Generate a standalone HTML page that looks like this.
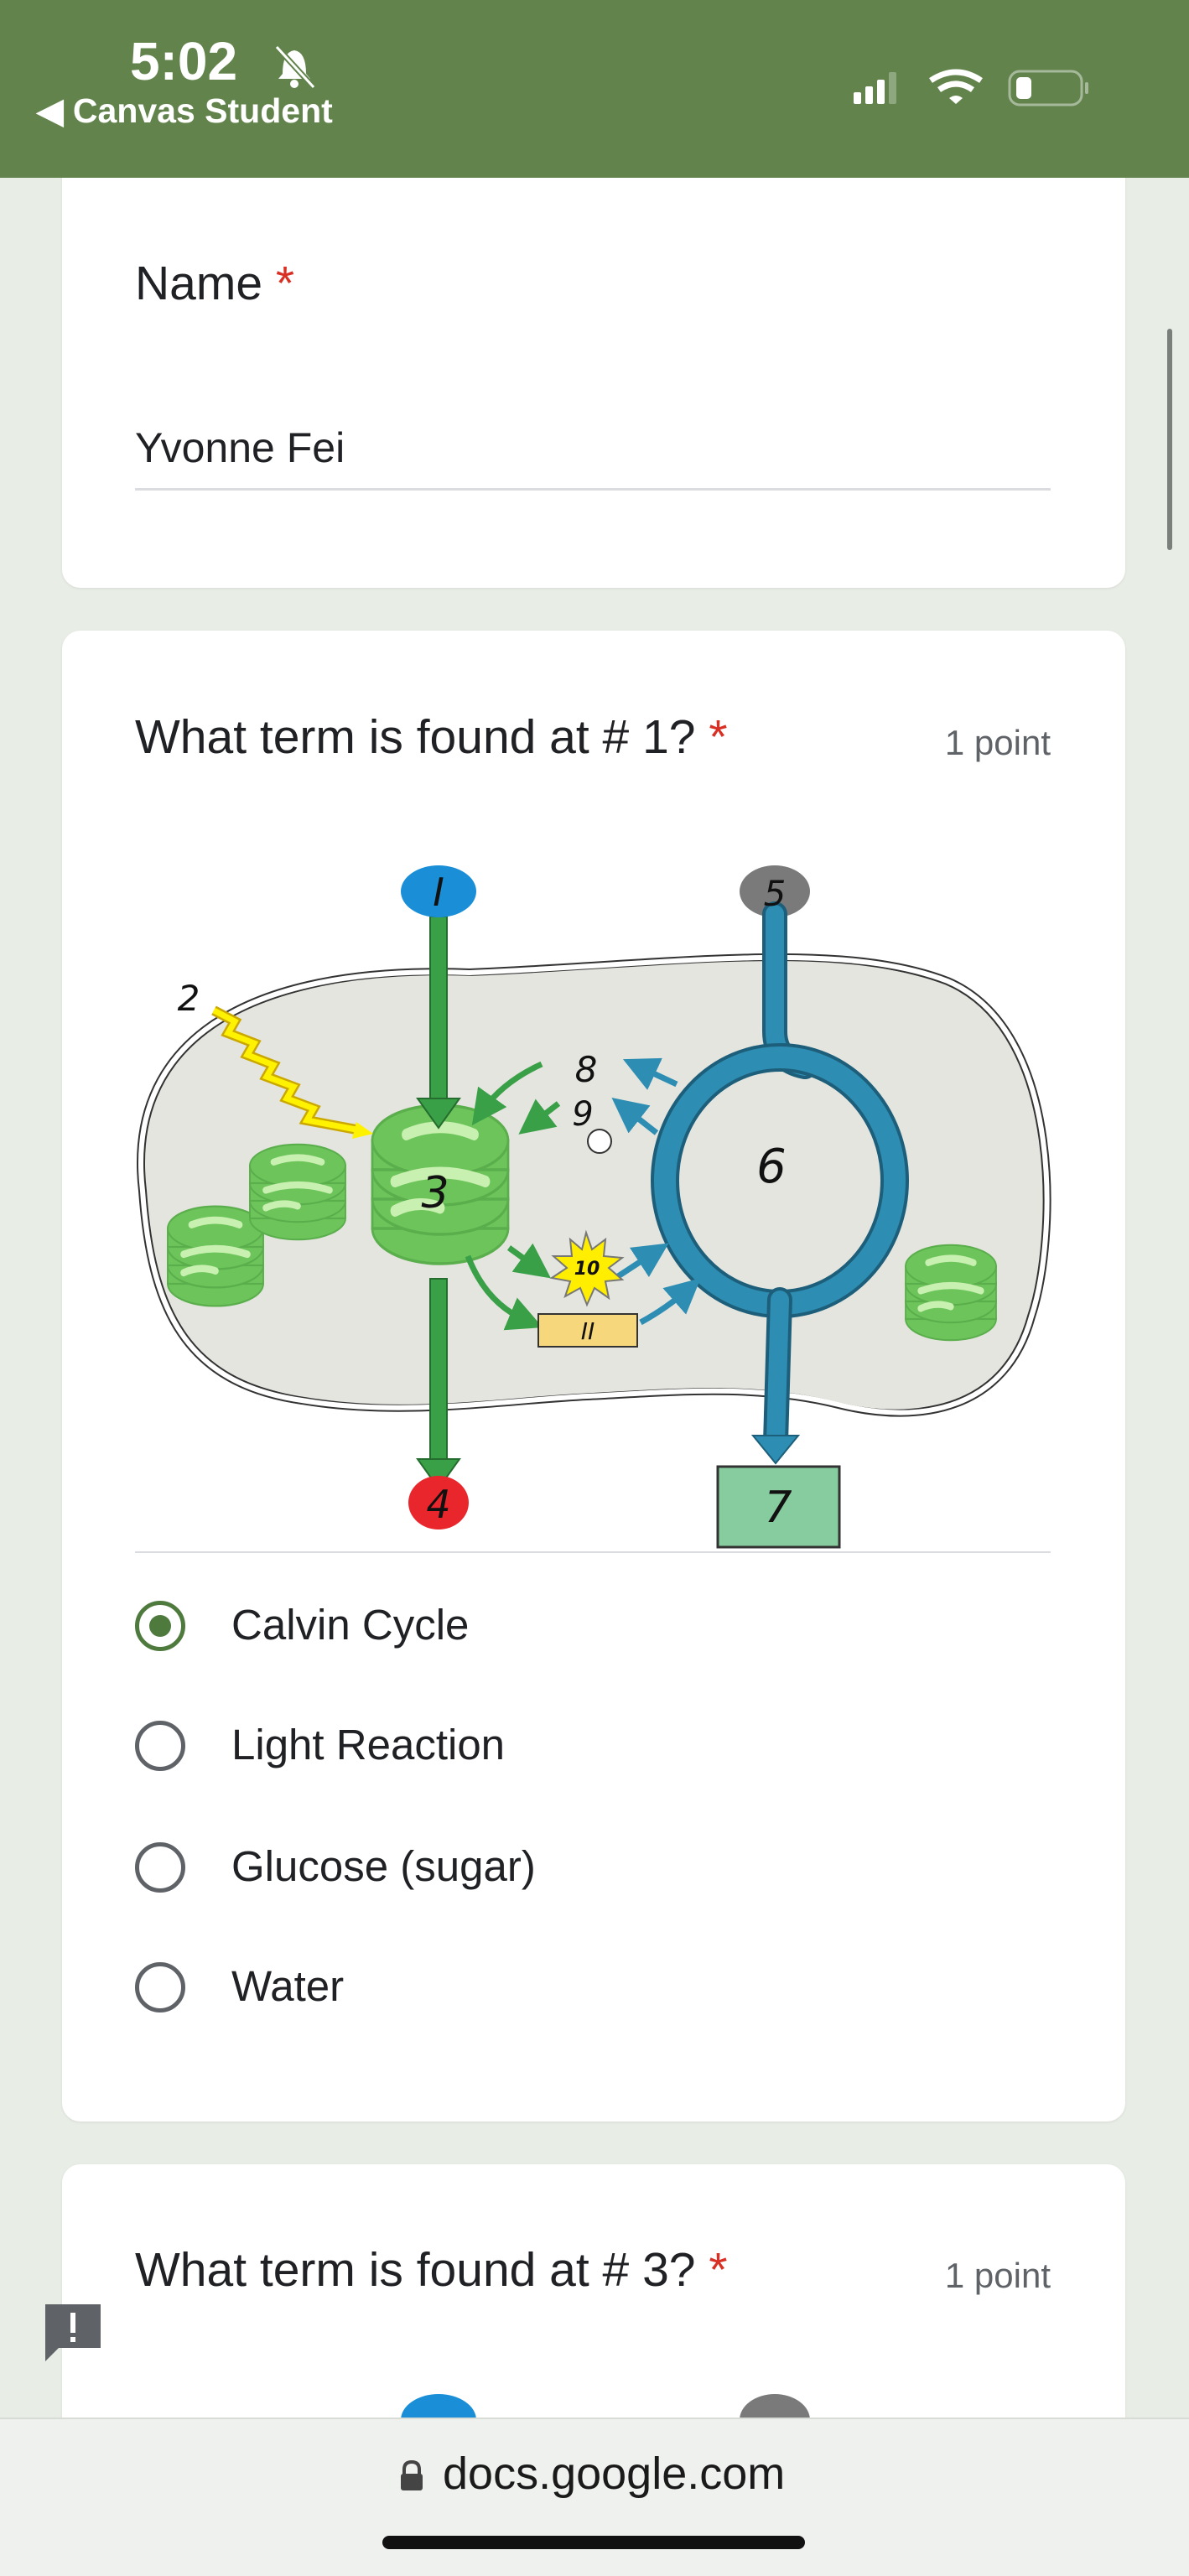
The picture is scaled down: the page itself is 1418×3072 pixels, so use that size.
<!DOCTYPE html>
<html><head><meta charset="utf-8"><style>
html,body{margin:0;padding:0}
#root{width:1418px;height:3072px;overflow:hidden;background:#e8ede6;font-family:"Liberation Sans",Arial,sans-serif;position:relative}
.abs{position:absolute}
.card{position:absolute;background:#fff;border-radius:22px;left:74px;width:1268px;box-shadow:0 1px 3px rgba(0,0,0,.08)}
.t{position:absolute;color:#202124;white-space:nowrap}
.req{color:#d93025}
.radio{position:absolute;left:161px;width:60px;height:60px;border:5px solid #5f6368;border-radius:50%;box-sizing:border-box}
.rl{position:absolute;left:276px;font-size:51px;color:#202124}
.pt{position:absolute;right:165px;font-size:42px;color:#5f6368;white-space:nowrap}
</style></head><body><div id="root">
<div class="card" style="top:170px;height:531px"></div>
<div class="abs" style="left:0;top:0;width:1418px;height:212px;background:#62844c"></div>
<div class="t" style="left:155px;top:36px;font-size:64px;font-weight:bold;color:#fff">5:02</div>
<svg class="abs" style="left:322px;top:50px" width="60" height="58"><path d="M15 38 Q15 12 29 10 Q43 12 43 38 L48 44 L10 44 Z" fill="#fff"/><circle cx="29" cy="50" r="5" fill="#fff"/><line x1="8" y1="6" x2="52" y2="54" stroke="#62844c" stroke-width="7"/><line x1="8" y1="6" x2="52" y2="54" stroke="#fff" stroke-width="3"/></svg>
<div class="t" style="left:44px;top:108px;font-size:41px;font-weight:bold;color:#fff">◀ Canvas Student</div>
<svg class="abs" style="left:1010px;top:80px" width="300" height="50">
<rect x="8" y="30" width="9" height="14" rx="2" fill="#fff"/><rect x="22" y="23" width="9" height="21" rx="2" fill="#fff"/><rect x="36" y="15" width="9" height="29" rx="2" fill="#fff"/><rect x="50" y="6" width="9" height="38" rx="2" fill="#8fa77f"/>
<path d="M100 16 Q130 -4 160 16" stroke="#fff" stroke-width="7" fill="none"/><path d="M110 27 Q130 13 150 27" stroke="#fff" stroke-width="7" fill="none"/><path d="M122 37 L130 44 L138 37 Q130 31 122 37Z" fill="#fff"/>
<rect x="194" y="5" width="86" height="40" rx="12" fill="none" stroke="#a7b99b" stroke-width="3"/><rect x="202" y="12" width="18" height="26" rx="5" fill="#fff"/><rect x="284" y="18" width="4" height="14" rx="2" fill="#a7b99b"/>
</svg>
<div class="abs" style="left:1392px;top:392px;width:6px;height:264px;background:#7b7f7b;border-radius:3px"></div>

<div class="t" style="left:161px;top:305px;font-size:57px">Name <span class="req">*</span></div>
<div class="t" style="left:161px;top:505px;font-size:50px">Yvonne Fei</div>
<div class="abs" style="left:161px;top:582px;width:1092px;height:3px;background:#dadce0"></div>

<div class="card" style="top:752px;height:1778px"></div>
<div class="t" style="left:161px;top:846px;font-size:57px">What term is found at # 1? <span class="req">*</span></div>
<div class="pt" style="top:862px">1 point</div>

<svg class="abs" style="left:0;top:0" width="1418" height="1900">
<defs>
<marker id="ga" markerWidth="6" markerHeight="6" refX="3" refY="3" orient="auto"><path d="M0 0 L6 3 L0 6Z" fill="#3aa048"/></marker>
<marker id="ba" markerWidth="6" markerHeight="6" refX="3" refY="3" orient="auto"><path d="M0 0 L6 3 L0 6Z" fill="#2e8db2"/></marker>
<g id="stk"><g fill="#6cc45a" stroke="#5aae4c" stroke-width="2"><ellipse cx="0" cy="60" rx="60" ry="24"/><rect x="-60" y="40" width="120" height="20"/><ellipse cx="0" cy="40" rx="60" ry="24"/><rect x="-60" y="20" width="120" height="20"/><ellipse cx="0" cy="20" rx="60" ry="24"/><rect x="-60" y="0" width="120" height="20"/><ellipse cx="0" cy="0" rx="60" ry="24"/></g><path d="M-30 -4 Q0 -14 30 -4 M-40 28 Q0 16 40 28 M-40 48 Q-20 40 0 46" stroke="#c8f0b0" stroke-width="8" fill="none" stroke-linecap="round"/></g>
</defs>
<path d="M170 1420 C150 1250 280 1150 560 1160 C800 1150 1000 1120 1130 1170 C1270 1230 1260 1480 1230 1570 C1200 1680 1100 1700 1000 1675 C900 1650 800 1660 700 1665 C600 1670 480 1690 360 1670 C220 1650 180 1560 170 1420Z" fill="#e4e5df" stroke="#333" stroke-width="10"/>
<path d="M170 1420 C150 1250 280 1150 560 1160 C800 1150 1000 1120 1130 1170 C1270 1230 1260 1480 1230 1570 C1200 1680 1100 1700 1000 1675 C900 1650 800 1660 700 1665 C600 1670 480 1690 360 1670 C220 1650 180 1560 170 1420Z" fill="none" stroke="#fff" stroke-width="6"/>
<path d="M170 1420 C150 1250 280 1150 560 1160 C800 1150 1000 1120 1130 1170 C1270 1230 1260 1480 1230 1570 C1200 1680 1100 1700 1000 1675 C900 1650 800 1660 700 1665 C600 1670 480 1690 360 1670 C220 1650 180 1560 170 1420Z" fill="#e4e5df" transform="translate(709 1420) scale(0.985) translate(-709 -1420)"/>
<use href="#stk" transform="translate(257 1465) scale(0.95 1.1)"/>
<use href="#stk" transform="translate(355 1390) scale(0.95 1.05)"/>
<use href="#stk" transform="translate(1134 1510) scale(0.9 1.05)"/>
<g transform="translate(525 1360) scale(1.35 1.75)"><use href="#stk"/></g>
<rect x="513" y="1093" width="20" height="230" fill="#3aa048" stroke="#256d2e" stroke-width="2"/>
<path d="M498 1310 L548 1310 L523 1345Z" fill="#3aa048" stroke="#256d2e" stroke-width="2"/>
<rect x="513" y="1525" width="20" height="225" fill="#3aa048" stroke="#256d2e" stroke-width="2"/>
<path d="M498 1740 L548 1740 L523 1775Z" fill="#3aa048" stroke="#256d2e" stroke-width="2"/>
<ellipse cx="523" cy="1063" rx="45" ry="31" fill="#1a8fd8"/>
<ellipse cx="523" cy="1792" rx="36" ry="32" fill="#e8262b"/>
<ellipse cx="924" cy="1063" rx="42" ry="31" fill="#7a7a7a"/>
<g fill="none" stroke-linecap="round">
<path d="M924 1090 L924 1230 Q924 1265 960 1272" stroke="#1d5f7a" stroke-width="30"/>
<path d="M924 1090 L924 1230 Q924 1265 960 1272" stroke="#2e8db2" stroke-width="22"/>
<ellipse cx="930" cy="1408" rx="137" ry="147" stroke="#1d5f7a" stroke-width="34"/>
<ellipse cx="930" cy="1408" rx="137" ry="147" stroke="#2e8db2" stroke-width="26"/>
<path d="M930 1550 L925 1720" stroke="#1d5f7a" stroke-width="30"/>
<path d="M930 1550 L925 1720" stroke="#2e8db2" stroke-width="22"/>
</g>
<path d="M898 1712 L952 1712 L925 1745Z" fill="#2e8db2" stroke="#1d5f7a" stroke-width="2"/>
<rect x="856" y="1749" width="145" height="96" fill="#86cc9e" stroke="#333" stroke-width="3"/>
<path d="M255 1205 L280 1218 L272 1232 L303 1244 L295 1258 L326 1270 L318 1284 L350 1296 L342 1310 L374 1322 L366 1336 L430 1348" fill="none" stroke="#caa800" stroke-width="12"/>
<path d="M255 1205 L280 1218 L272 1232 L303 1244 L295 1258 L326 1270 L318 1284 L350 1296 L342 1310 L374 1322 L366 1336 L430 1348" fill="none" stroke="#fff200" stroke-width="7"/>
<path d="M425 1338 L445 1352 L420 1358Z" fill="#fff200"/>
<circle cx="715" cy="1361" r="14" fill="#fff" stroke="#333" stroke-width="2"/>
<g stroke="#3aa048" stroke-width="7" fill="none" marker-end="url(#ga)">
<path d="M646 1269 Q600 1290 575 1325"/><path d="M666 1316 L635 1340"/><path d="M607 1488 L640 1512"/><path d="M558 1498 Q580 1555 628 1575"/>
</g>
<g stroke="#2e8db2" stroke-width="7" fill="none" marker-end="url(#ba)">
<path d="M807 1293 L762 1272"/><path d="M783 1351 L746 1322"/><path d="M734 1524 L780 1494"/><path d="M764 1577 Q795 1560 820 1538"/>
</g>
<path d="M699 1470 L706 1490 L722 1478 L720 1498 L742 1500 L726 1512 L742 1526 L722 1528 L726 1548 L709 1536 L700 1556 L692 1536 L674 1546 L680 1528 L658 1524 L676 1512 L660 1498 L682 1498 L680 1478 L694 1490Z" fill="#ffee00" stroke="#777" stroke-width="2"/>
<rect x="642" y="1567" width="118" height="39" fill="#f7d77c" stroke="#333" stroke-width="2"/>
<g font-family="'DejaVu Sans',sans-serif" fill="#111" font-style="italic" text-anchor="middle">
<text x="523" y="1080" font-size="46">I</text>
<text x="924" y="1080" font-size="42">5</text>
<text x="523" y="1810" font-size="46">4</text>
<text x="928" y="1815" font-size="52">7</text>
<text x="225" y="1205" font-size="42">2</text>
<text x="519" y="1440" font-size="52">3</text>
<text x="920" y="1410" font-size="56">6</text>
<text x="699" y="1290" font-size="42">8</text>
<text x="695" y="1342" font-size="40">9</text>
<text x="700" y="1520" font-size="22" font-weight="bold">10</text>
<text x="701" y="1597" font-size="28">II</text>
</g>
</svg>
<div class="abs" style="left:161px;top:1850px;width:1092px;height:2px;background:#dadce0"></div>

<div class="radio" style="top:1909px;border-color:#4f7a3e"></div>
<div class="abs" style="left:178px;top:1926px;width:26px;height:26px;border-radius:50%;background:#4f7a3e"></div>
<div class="rl" style="top:1908px">Calvin Cycle</div>
<div class="radio" style="top:2052px"></div>
<div class="rl" style="top:2051px">Light Reaction</div>
<div class="radio" style="top:2197px"></div>
<div class="rl" style="top:2196px">Glucose (sugar)</div>
<div class="radio" style="top:2340px"></div>
<div class="rl" style="top:2339px">Water</div>

<div class="card" style="top:2581px;height:400px"></div>
<div class="t" style="left:161px;top:2674px;font-size:57px">What term is found at # 3? <span class="req">*</span></div>
<div class="pt" style="top:2690px">1 point</div>
<div class="abs" style="left:478px;top:2855px;width:90px;height:62px;border-radius:50%;background:#1a8fd8"></div>
<div class="abs" style="left:882px;top:2855px;width:84px;height:62px;border-radius:50%;background:#7a7a7a"></div>
<svg class="abs" style="left:50px;top:2744px" width="74" height="74"><path d="M4 4 H70 V56 H20 L4 72Z" fill="#5f6368"/><rect x="34" y="14" width="6" height="24" fill="#fff"/><rect x="34" y="43" width="6" height="6" fill="#fff"/></svg>

<div class="abs" style="left:0;top:2883px;width:1418px;height:189px;background:#eef1ed;border-top:2px solid #d8dcd6"></div>
<svg class="abs" style="left:474px;top:2933px" width="34" height="40"><path d="M8 18 V12 Q8 3 17 3 Q26 3 26 12 V18" fill="none" stroke="#444" stroke-width="4"/><rect x="4" y="17" width="26" height="20" rx="3" fill="#444"/></svg>
<div class="t" style="left:528px;top:2919px;font-size:54px;color:#1a1a1a">docs.google.com</div>
<div class="abs" style="left:456px;top:3024px;width:504px;height:16px;border-radius:8px;background:#111"></div>
</div></body></html>
